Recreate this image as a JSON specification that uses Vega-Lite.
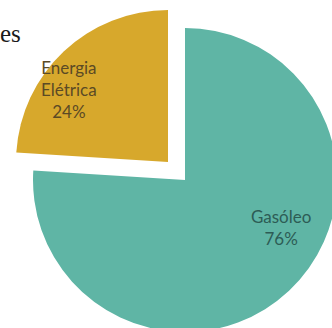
{
  "$schema": "https://vega.github.io/schema/vega-lite/v6.json",
  "width": 294,
  "height": 296,
  "autosize": {"type": "none"},
  "padding": {"left": 38, "top": 32, "right": 0, "bottom": 0},
  "background": "white",
  "view": {"stroke": null},
  "title": {
    "text": "es",
    "anchor": "start",
    "frame": "group",
    "orient": "top",
    "offset": 0,
    "baseline": "alphabetic",
    "dx": -38,
    "dy": 57,
    "font": "Liberation Sans Narrow",
    "fontSize": 25,
    "fontWeight": "normal",
    "color": "#1a1a1a"
  },
  "data": {
    "values": [
      {"fonte": "Gasóleo", "valor": 76, "rotulo": "Gasóleo\n76%"},
      {"fonte": "Energia Elétrica", "valor": 24, "rotulo": "Energia\nElétrica\n24%"}
    ]
  },
  "encoding": {
    "theta": {"field": "valor", "type": "quantitative", "stack": true},
    "order": {"field": "valor", "type": "quantitative", "sort": "descending"}
  },
  "layer": [
    {
      "mark": {
        "type": "arc",
        "outerRadius": 152,
        "xOffset": {"expr": "datum.fonte == 'Gasóleo' ? 0 : -17"},
        "yOffset": {"expr": "datum.fonte == 'Gasóleo' ? 0 : -18"}
      },
      "encoding": {
        "color": {
          "field": "fonte",
          "type": "nominal",
          "scale": {"domain": ["Gasóleo", "Energia Elétrica"], "range": ["#5fb5a5", "#d7a82c"]},
          "legend": null
        }
      }
    },
    {
      "mark": {
        "type": "text",
        "radius": 120,
        "font": "Lato",
        "fontSize": 17,
        "lineBreak": "\n",
        "lineHeight": 22,
        "align": "center",
        "baseline": "middle",
        "dx": {"expr": "datum.fonte == 'Gasóleo' ? 14 : -34"},
        "dy": {"expr": "datum.fonte == 'Gasóleo' ? -49 : -24"},
        "fill": {"expr": "datum.fonte == 'Gasóleo' ? '#2d5c55' : '#5b4a25'"}
      },
      "encoding": {
        "text": {"field": "rotulo", "type": "nominal"}
      }
    }
  ]
}
